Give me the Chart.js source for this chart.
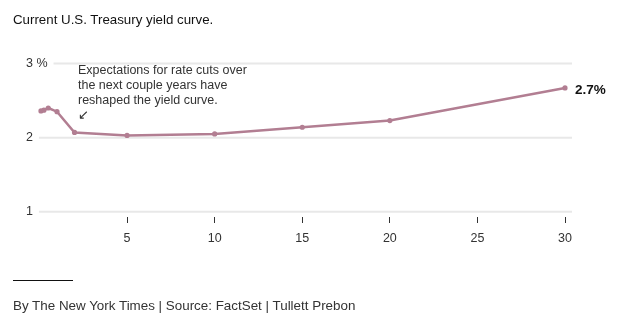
<!DOCTYPE html>
<html>
<head>
<meta charset="utf-8">
<script src="https://cdn.jsdelivr.net/npm/chart.js@4"></script>
<style>
  body { margin: 0; background: #fff; font-family: "Liberation Sans", Arial, sans-serif; }
  .wrap { position: relative; width: 620px; height: 330px; }
  canvas { position: absolute; left: 0; top: 0; }
  .title { position: absolute; left: 13px; top: 12px; font-size: 13.3px; color: #121212; }
  .note { position: absolute; left: 78px; top: 63px; font-size: 12.5px; line-height: 15px; color: #333; }
  .rule { position: absolute; left: 13px; top: 280px; width: 60px; height: 1px; background: #111; }
  .source { position: absolute; left: 13px; top: 298px; font-size: 13.4px; color: #333; }
</style>
</head>
<body>
<div class="wrap">
  <canvas id="yieldChart" width="620" height="330"></canvas>
  <div class="title">Current U.S. Treasury yield curve.</div>
  <div class="note">Expectations for rate cuts over<br>the next couple years have<br>reshaped the yield curve.<br>&#8601;</div>
  <div class="rule"></div>
  <div class="source">By The New York Times | Source: FactSet | Tullett Prebon</div>
</div>
<script type="text/javascript">
  // maturity in years, yield in percent
  const maturities = [1 / 12, 0.25, 0.5, 1, 2, 5, 10, 15, 20, 30];
  const yields = [2.36, 2.37, 2.40, 2.35, 2.07, 2.03, 2.05, 2.14, 2.23, 2.67];
  const yTicks = [1, 2, 3];
  const yTickLabels = ["1", "2", "3 %"];
  const xTicks = [5, 10, 15, 20, 25, 30];
  const endLabel = "2.7%";

  const lineColor = "rgb(178,126,146)";

  // y gridlines + labels, drawn from the y scale
  const yGrid = {
    id: "yGrid",
    beforeDatasetsDraw(chart) {
      const ctx = chart.ctx, y = chart.scales.y, area = chart.chartArea;
      ctx.save();
      ctx.font = "12.5px 'Liberation Sans', Arial, sans-serif";
      ctx.textBaseline = "middle";
      yTicks.forEach(function (v, i) {
        const py = y.getPixelForValue(v);
        const w = ctx.measureText(yTickLabels[i]).width;
        ctx.fillStyle = "#333";
        ctx.fillText(yTickLabels[i], 26, py);
        ctx.strokeStyle = "#e8e8e8";
        ctx.lineWidth = 2;
        ctx.beginPath();
        ctx.moveTo(26 + w + 6, py);
        ctx.lineTo(area.right + 7, py);
        ctx.stroke();
      });
      ctx.restore();
    },
    afterDatasetsDraw(chart) {
      const ctx = chart.ctx;
      const meta = chart.getDatasetMeta(0);
      const last = meta.data[meta.data.length - 1];
      ctx.save();
      ctx.font = "bold 13.5px 'Liberation Sans', Arial, sans-serif";
      ctx.fillStyle = "#111";
      ctx.textBaseline = "middle";
      ctx.fillText(endLabel, last.x + 10, last.y + 2);
      ctx.restore();
    }
  };

  new Chart("yieldChart", {
    type: "line",
    data: {
      datasets: [{
        data: maturities.map(function (m, i) { return { x: m, y: yields[i] }; }),
        borderColor: lineColor,
        backgroundColor: lineColor,
        borderWidth: 2.5,
        pointRadius: 2.6,
        pointHoverRadius: 2.6,
        pointBorderWidth: 0,
        tension: 0,
        fill: false,
        clip: false
      }]
    },
    options: {
      responsive: false,
      animation: false,
      layout: { padding: { left: 39.5, right: 55, top: 63.5, bottom: 76 } },
      plugins: { legend: { display: false }, tooltip: { enabled: false } },
      scales: {
        x: {
          type: "linear",
          min: 0,
          max: 30,
          afterBuildTicks: function (axis) { axis.ticks = xTicks.map(function (v) { return { value: v }; }); },
          grid: { display: true, drawOnChartArea: false, drawTicks: true, tickLength: 6, tickColor: "#333", tickWidth: 1 },
          border: { display: false },
          ticks: { padding: 8, color: "#333", font: { family: "'Liberation Sans', Arial, sans-serif", size: 12.5 }, maxRotation: 0 }
        },
        y: {
          display: false,
          min: 0.93,
          max: 3
        }
      }
    },
    plugins: [yGrid]
  });
</script>
</body>
</html>
